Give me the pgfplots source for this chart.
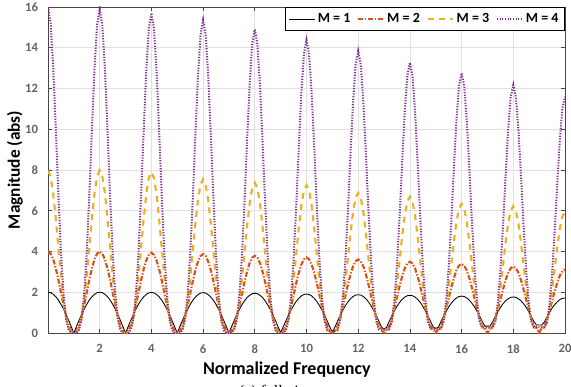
\documentclass[border=0pt]{standalone}
\usepackage{pgfplots}
\usepackage{pgfplotstable}
\pgfplotsset{compat=1.18}
\usepackage{fontspec}
\setmainfont{Carlito}
\newfontfamily\capfont{Liberation Serif}
\definecolor{cM2}{RGB}{217,83,25}
\definecolor{cM3}{RGB}{237,177,32}
\definecolor{cM4}{RGB}{126,47,142}
\definecolor{tickgray}{RGB}{100,100,100}
\definecolor{axgray}{RGB}{70,70,70}
\definecolor{gridgray}{RGB}{225,225,225}

\pgfplotstableread{
x m1 m2 m3 m4
0.0 2.00 4.00 7.97 16.00
0.1 1.98 3.90 7.68 15.23
0.2 1.90 3.62 6.86 13.09
0.3 1.78 3.18 5.64 10.08
0.4 1.62 2.62 4.22 6.85
0.5 1.41 2.00 2.82 4.00
0.6 1.18 1.38 1.62 1.93
0.7 0.91 0.82 0.75 0.68
0.8 0.62 0.38 0.24 0.15
0.9 0.31 0.10 0.03 0.01
1.0 0 0 0 0
1.1 0.31 0.10 0.03 0.01
1.2 0.62 0.38 0.24 0.15
1.3 0.91 0.82 0.75 0.68
1.4 1.18 1.38 1.62 1.92
1.5 1.41 2.00 2.82 3.98
1.6 1.62 2.62 4.23 6.81
1.7 1.78 3.18 5.64 10.02
1.8 1.90 3.62 6.86 13.01
1.9 1.98 3.90 7.69 15.13
2.0 2.00 4.00 7.98 15.90
2.1 1.98 3.90 7.69 15.13
2.2 1.90 3.62 6.86 13.01
2.3 1.78 3.18 5.64 10.02
2.4 1.62 2.62 4.23 6.81
2.5 1.41 2.00 2.82 3.98
2.6 1.18 1.38 1.62 1.92
2.7 0.91 0.82 0.75 0.68
2.8 0.62 0.38 0.24 0.15
2.9 0.31 0.10 0.03 0.01
3.0 0 0 0 0
3.1 0.31 0.10 0.03 0.01
3.2 0.61 0.38 0.23 0.14
3.3 0.90 0.81 0.74 0.67
3.4 1.17 1.36 1.60 1.89
3.5 1.41 1.97 2.79 3.93
3.6 1.61 2.58 4.18 6.73
3.7 1.77 3.13 5.59 9.90
3.8 1.89 3.56 6.80 12.84
3.9 1.97 3.84 7.61 14.94
4.0 1.99 3.94 7.90 15.70
4.1 1.97 3.84 7.61 14.94
4.2 1.89 3.56 6.80 12.84
4.3 1.77 3.13 5.59 9.90
4.4 1.61 2.58 4.18 6.73
4.5 1.41 1.97 2.79 3.93
4.6 1.17 1.36 1.60 1.89
4.7 0.90 0.81 0.74 0.67
4.8 0.61 0.38 0.23 0.14
4.9 0.31 0.10 0.03 0.01
5.0 0 0 0 0
5.1 0.31 0.09 0.03 0.01
5.2 0.61 0.37 0.22 0.14
5.3 0.90 0.80 0.71 0.65
5.4 1.16 1.34 1.54 1.85
5.5 1.40 1.94 2.67 3.84
5.6 1.60 2.53 4.00 6.58
5.7 1.76 3.07 5.35 9.68
5.8 1.88 3.50 6.50 12.57
5.9 1.96 3.78 7.28 14.62
6.0 1.98 3.87 7.56 15.36
6.1 1.96 3.78 7.28 14.62
6.2 1.88 3.50 6.50 12.57
6.3 1.76 3.07 5.35 9.68
6.4 1.60 2.53 4.00 6.58
6.5 1.40 1.94 2.67 3.84
6.6 1.16 1.34 1.54 1.85
6.7 0.90 0.80 0.71 0.65
6.8 0.61 0.37 0.22 0.14
6.9 0.31 0.09 0.03 0.01
7.0 0 0 0 0
7.1 0.31 0.09 0.03 0.01
7.2 0.60 0.36 0.22 0.14
7.3 0.89 0.78 0.69 0.63
7.4 1.15 1.31 1.50 1.80
7.5 1.38 1.90 2.61 3.73
7.6 1.58 2.48 3.91 6.38
7.7 1.74 3.01 5.22 9.39
7.8 1.85 3.43 6.35 12.19
7.9 1.93 3.70 7.11 14.18
8.0 1.95 3.79 7.38 14.90
8.1 1.93 3.70 7.11 14.18
8.2 1.85 3.43 6.35 12.19
8.3 1.74 3.01 5.22 9.39
8.4 1.58 2.48 3.91 6.38
8.5 1.38 1.90 2.61 3.73
8.6 1.15 1.31 1.50 1.80
8.7 0.89 0.78 0.69 0.63
8.8 0.60 0.36 0.22 0.14
8.9 0.31 0.09 0.03 0.01
9.0 0.02 0 0 0
9.1 0.30 0.09 0.03 0.01
9.2 0.59 0.35 0.21 0.13
9.3 0.87 0.76 0.68 0.61
9.4 1.12 1.28 1.47 1.73
9.5 1.35 1.86 2.57 3.60
9.6 1.55 2.43 3.84 6.16
9.7 1.70 2.95 5.14 9.06
9.8 1.82 3.36 6.25 11.76
9.9 1.89 3.62 6.99 13.69
10.0 1.91 3.71 7.26 14.38
10.1 1.89 3.62 6.99 13.69
10.2 1.82 3.36 6.25 11.76
10.3 1.70 2.95 5.14 9.06
10.4 1.55 2.43 3.84 6.16
10.5 1.35 1.86 2.57 3.60
10.6 1.12 1.28 1.47 1.73
10.7 0.87 0.76 0.68 0.61
10.8 0.59 0.35 0.21 0.13
10.9 0.30 0.09 0.08 0.10
11.0 0.05 0 0.08 0.10
11.1 0.29 0.09 0.08 0.10
11.2 0.58 0.34 0.20 0.13
11.3 0.85 0.74 0.64 0.59
11.4 1.11 1.25 1.40 1.67
11.5 1.33 1.81 2.43 3.46
11.6 1.52 2.36 3.64 5.93
11.7 1.68 2.87 4.87 8.72
11.8 1.79 3.27 5.92 11.32
11.9 1.86 3.52 6.63 13.17
12.0 1.88 3.61 6.88 13.84
12.1 1.86 3.52 6.63 13.17
12.2 1.79 3.27 5.92 11.32
12.3 1.68 2.87 4.87 8.72
12.4 1.52 2.36 3.64 5.93
12.5 1.33 1.81 2.43 3.46
12.6 1.11 1.25 1.40 1.67
12.7 0.85 0.74 0.64 0.59
12.8 0.58 0.34 0.20 0.18
12.9 0.29 0.15 0.15 0.18
13.0 0.18 0 0.15 0.18
13.1 0.29 0.15 0.15 0.18
13.2 0.57 0.33 0.20 0.18
13.3 0.84 0.72 0.63 0.56
13.4 1.09 1.21 1.36 1.60
13.5 1.31 1.75 2.37 3.32
13.6 1.50 2.29 3.54 5.68
13.7 1.65 2.78 4.73 8.36
13.8 1.76 3.17 5.76 10.86
13.9 1.83 3.41 6.45 12.63
14.0 1.85 3.50 6.69 13.27
14.1 1.83 3.41 6.45 12.63
14.2 1.76 3.17 5.76 10.86
14.3 1.65 2.78 4.73 8.36
14.4 1.50 2.29 3.54 5.68
14.5 1.31 1.75 2.37 3.32
14.6 1.09 1.21 1.36 1.60
14.7 0.84 0.72 0.63 0.56
14.8 0.57 0.33 0.20 0.22
14.9 0.29 0.20 0.20 0.22
15.0 0.23 0 0.20 0.22
15.1 0.28 0.20 0.20 0.22
15.2 0.56 0.32 0.20 0.22
15.3 0.82 0.70 0.59 0.54
15.4 1.06 1.17 1.29 1.54
15.5 1.28 1.70 2.24 3.19
15.6 1.46 2.22 3.36 5.46
15.7 1.61 2.69 4.48 8.04
15.8 1.72 3.07 5.45 10.43
15.9 1.79 3.31 6.11 12.13
16.0 1.81 3.39 6.34 12.75
16.1 1.79 3.31 6.11 12.13
16.2 1.72 3.07 5.45 10.43
16.3 1.61 2.69 4.48 8.04
16.4 1.46 2.22 3.36 5.46
16.5 1.28 1.70 2.24 3.19
16.6 1.06 1.17 1.29 1.54
16.7 0.82 0.70 0.59 0.54
16.8 0.56 0.32 0.25 0.27
16.9 0.34 0.20 0.25 0.27
17.0 0.34 0 0.25 0.27
17.1 0.34 0.20 0.25 0.27
17.2 0.55 0.31 0.25 0.27
17.3 0.80 0.67 0.58 0.52
17.4 1.04 1.13 1.27 1.47
17.5 1.25 1.63 2.20 3.04
17.6 1.43 2.13 3.30 5.21
17.7 1.58 2.59 4.41 7.67
17.8 1.68 2.95 5.36 9.96
17.9 1.75 3.18 6.00 11.58
18.0 1.77 3.26 6.23 12.17
18.1 1.75 3.18 6.00 11.58
18.2 1.68 2.95 5.36 9.96
18.3 1.58 2.59 4.41 7.67
18.4 1.43 2.13 3.30 5.21
18.5 1.25 1.63 2.20 3.04
18.6 1.04 1.13 1.27 1.47
18.7 0.80 0.67 0.58 0.52
18.8 0.55 0.31 0.25 0.30
18.9 0.39 0.25 0.25 0.30
19.0 0.39 0 0.25 0.30
19.1 0.39 0.25 0.25 0.30
19.2 0.53 0.30 0.25 0.30
19.3 0.78 0.64 0.56 0.49
19.4 1.01 1.08 1.21 1.40
19.5 1.22 1.56 2.10 2.90
19.6 1.39 2.04 3.15 4.97
19.7 1.53 2.48 4.21 7.31
19.8 1.64 2.82 5.12 9.49
19.9 1.70 3.04 5.73 11.04
20.0 1.72 3.12 5.95 11.60
}\datatable

\begin{document}
\begin{tikzpicture}
\begin{axis}[
  scale only axis,
  width=387.75pt, height=244.5pt,
  xmin=0, xmax=20, ymin=0, ymax=16,
  xtick={2,4,...,20},
  ytick={0,2,...,16},
  axis line style={axgray, line width=0.6pt},
  tick style={axgray, line width=0.5pt},
  major tick length=3pt,
  tick align=inside,
  xtick pos=both, ytick pos=both,
  grid=major,
  major grid style={gridgray, line width=0.5pt},
  /pgf/number format/assume math mode=true,
  ticklabel style={font=\bfseries\fontsize{9.5}{10}\selectfont, text=tickgray},
  xticklabel style={yshift=-5pt},
  yticklabel style={xshift=-4pt},
  xlabel={Normalized Frequency},
  ylabel={Magnitude (abs)},
  every axis x label/.style={at={(axis description cs:0.462,-0.088)}, anchor=north, inner sep=0pt, font=\bfseries\fontsize{13.5}{15}\selectfont},
  every axis y label/.style={at={(axis description cs:-0.0638,0.5)}, rotate=90, anchor=center, inner sep=0pt, font=\bfseries\fontsize{13}{15}\selectfont},
  legend columns=4,
  legend style={at={(1,1)}, anchor=north east, draw=black, line width=0.6pt, fill=white,
    font=\bfseries\fontsize{10.5}{12}\selectfont, inner sep=2.5pt,
    /tikz/every even column/.append style={column sep=3pt}},
  legend image code/.code={\draw[#1] (0pt,0pt) -- (19pt,0pt);},
  legend cell align=left,
  clip=true,
]
\addplot[black, line width=0.65pt, no markers] table[x=x, y=m1] {\datatable};
\addlegendentry{M = 1}
\addplot[cM2, line width=1.6pt, no markers, dash pattern=on 3.8pt off 1.3pt on 1.0pt off 1.3pt] table[x=x, y=m2] {\datatable};
\addlegendentry{M = 2}
\addplot[cM3, line width=1.6pt, no markers, dash pattern=on 4.5pt off 4pt] table[x=x, y=m3] {\datatable};
\addlegendentry{M = 3}
\addplot[cM4, line width=1.5pt, no markers, dash pattern=on 0.9pt off 1.1pt] table[x=x, y=m4] {\datatable};
\addlegendentry{M = 4}
\end{axis}
\node[anchor=north, inner sep=0pt, font=\capfont\fontsize{12}{14}\selectfont] at ([xshift=171pt,yshift=-39pt]current axis.south west) {(a) full-size};
\pgfresetboundingbox
\path[use as bounding box] ([xshift=-36pt,yshift=-39.75pt]current axis.south west) rectangle ([xshift=4.5pt,yshift=5.25pt]current axis.north east);
\end{tikzpicture}
\end{document}
